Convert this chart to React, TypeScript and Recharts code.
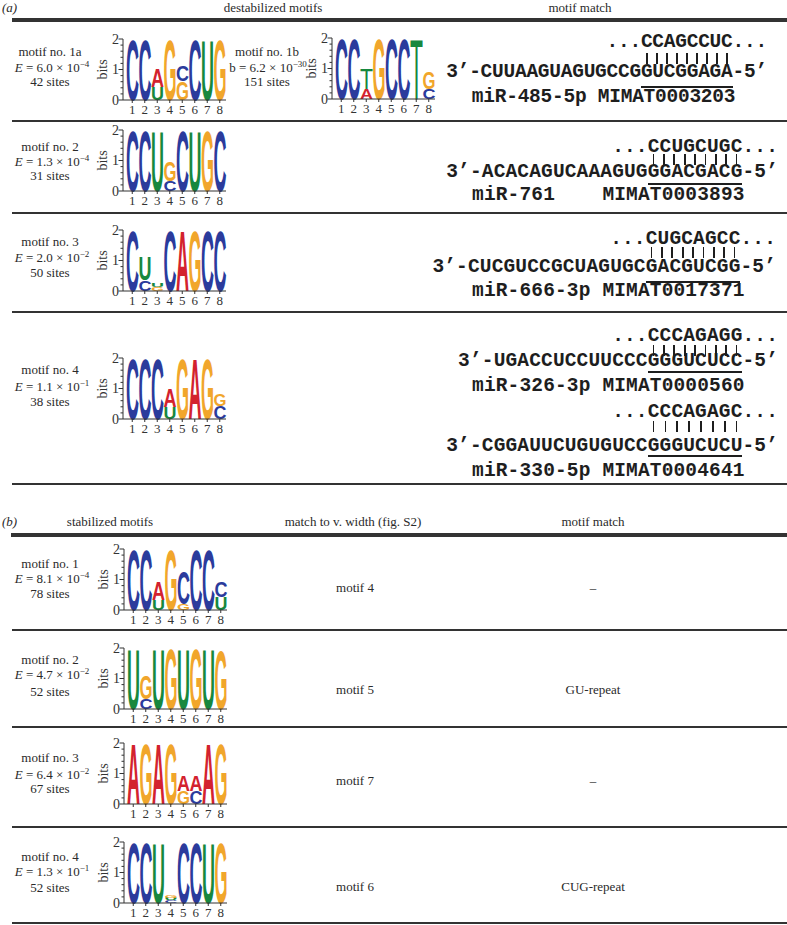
import React from 'react';
import { BarChart, Bar, XAxis, YAxis } from 'recharts';

// one logo column, letters listed bottom -> top as [letter, bits]
type Col = [string, number][];

const POSITIONS = ['1', '2', '3', '4', '5', '6', '7', '8'];
const Y_TICKS = [0, 0.2, 0.4, 0.6, 0.8, 1, 1.2, 1.4, 1.6, 1.8, 2];

const LOGO_A1: Col[] = [
  [['C', 1.98]], [['C', 1.98]], [['U', 0.42], ['A', 0.6]], [['G', 1.98]],
  [['G', 0.62], ['C', 0.52]], [['C', 1.98]], [['U', 1.98]], [['G', 1.98]],
];
const LOGO_A1B: Col[] = [
  [['C', 1.98]], [['C', 1.98]], [['A', 0.34], ['T', 0.68]], [['G', 1.98]],
  [['C', 1.98]], [['C', 1.98]], [['T', 1.98]], [['C', 0.34], ['G', 0.56]],
];
const LOGO_A2: Col[] = [
  [['C', 1.98]], [['C', 1.98]], [['U', 1.98]], [['C', 0.34], ['G', 0.64]],
  [['C', 1.98]], [['U', 1.98]], [['G', 1.98]], [['C', 1.98]],
];
const LOGO_A3: Col[] = [
  [['C', 1.98]], [['C', 0.35], ['U', 0.78]], [['G', 0.12], ['U', 0.14]], [['C', 1.98]],
  [['A', 1.98]], [['G', 1.98]], [['C', 1.98]], [['C', 1.98]],
];
const LOGO_A4: Col[] = [
  [['C', 1.98]], [['C', 1.98]], [['C', 1.98]], [['U', 0.39], ['A', 0.61]],
  [['G', 1.98]], [['A', 1.98]], [['G', 1.98]], [['C', 0.44], ['G', 0.39]],
];
const LOGO_B1: Col[] = [
  [['C', 1.98]], [['C', 1.98]], [['U', 0.33], ['A', 0.59]], [['G', 1.98]],
  [['G', 0.2], ['C', 1.1]], [['C', 1.98]], [['C', 1.98]], [['U', 0.42], ['C', 0.5]],
];
const LOGO_B2: Col[] = [
  [['U', 1.98]], [['C', 0.33], ['G', 0.77]], [['U', 1.98]], [['G', 1.98]],
  [['U', 1.98]], [['G', 1.98]], [['U', 1.98]], [['G', 1.95]],
];
const LOGO_B3: Col[] = [
  [['A', 1.98]], [['G', 1.98]], [['A', 1.98]], [['G', 1.98]],
  [['G', 0.44], ['A', 0.5]], [['C', 0.44], ['A', 0.5]], [['A', 1.98]], [['G', 1.98]],
];
const LOGO_B4: Col[] = [
  [['C', 1.98]], [['C', 1.98]], [['U', 1.98]], [['C', 0.1], ['U', 0.08], ['G', 0.1]],
  [['C', 1.98]], [['C', 1.98]], [['U', 1.98]], [['G', 1.98]],
];

// left column labels
const A_NAMES = ['motif no. 1a', 'motif no. 2', 'motif no. 3', 'motif no. 4'];
const A_MANT = ['6.0', '1.3', '2.0', '1.1'];
const A_EXP = ['−4', '−4', '−2', '−1'];
const A_SITES = ['42 sites', '31 sites', '50 sites', '38 sites'];

const B_NAMES = ['motif no. 1', 'motif no. 2', 'motif no. 3', 'motif no. 4'];
const B_MANT = ['8.1', '4.7', '6.4', '1.3'];
const B_EXP = ['−4', '−2', '−2', '−1'];
const B_SITES = ['78 sites', '52 sites', '67 sites', '52 sites'];
const B_WIDTH = ['motif 4', 'motif 5', 'motif 7', 'motif 6'];
const B_MATCH = ['–', 'GU-repeat', '–', 'CUG-repeat'];

// miRNA matches
const SITES = ['CCAGCCUC', 'CCUGCUGC', 'CUGCAGCC', 'CCCAGAGG', 'CCCAGAGC'];
const MIR_HEAD = ['CUUAAGUAGUGCCG', 'ACACAGUCAAAGUG', 'CUCGUCCGCUAGUGC', 'UGACCUCCUUCCC', 'CGGAUUCUGUGUCC'];
const MIR_SEED = ['GUCGGAGA', 'GGACGACG', 'GACGUCGG', 'GGGUCUCC', 'GGGUCUCU'];
const MIR_NAMES = [
  'miR-485-5p MIMAT0003203',
  'miR-761    MIMAT0003893',
  'miR-666-3p MIMAT0017371',
  'miR-326-3p MIMAT0000560',
  'miR-330-5p MIMAT0004641',
];

const COLORS: Record<string, string> = {
  A: '#d3222e',
  C: '#2b3b9c',
  G: '#f1a62b',
  U: '#17883e',
  T: '#17883e',
};

const SERIF = '"Liberation Serif", "Times New Roman", serif';
const MONO = '"Liberation Mono", "Courier New", monospace';
const INK = '#2a2a2a';
const DARK = '#1e1e1e';

function toRows(cols: Col[]) {
  return cols.map((c, i) => {
    const r: any = { pos: POSITIONS[i] };
    for (let k = 0; k < 3; k++) {
      r['v' + k] = c[k] ? c[k][1] : 0;
      r['l' + k] = c[k] ? c[k][0] : '';
    }
    return r;
  });
}

// stretches a letter to fill its stacked bar
const letterShape = (k: number) => (p: any) => {
  const letter = p.payload ? p.payload['l' + k] : '';
  if (!letter || !p.height || p.height < 0.4) return <g />;
  const sx = p.width / 100;
  const sy = p.height / 71.6;
  return (
    <g transform={`translate(${p.x},${p.y + p.height}) scale(${sx},${sy})`}>
      <text
        x={0}
        y={0}
        fontSize={100}
        fontFamily='"Liberation Sans", Arial, sans-serif'
        fontWeight={letter === 'T' ? 'normal' : 'bold'}
        textLength={100}
        lengthAdjust="spacingAndGlyphs"
        fill={COLORS[letter]}
      >
        {letter}
      </text>
    </g>
  );
};

const YTick = (p: any) => {
  const v = p.payload.value;
  const major = Math.abs(v - Math.round(v)) < 1e-6;
  return (
    <g>
      <line x1={p.x - (major ? 4.5 : 2.5)} x2={p.x} y1={p.y} y2={p.y} stroke="#333" strokeWidth={1} />
      {major && (
        <text x={p.x - 4} y={p.y} dy={4.5} textAnchor="end" fontSize={14} fontFamily={SERIF} fill="#333">
          {v}
        </text>
      )}
      {v === 1 && (
        <text
          transform={`translate(${p.x - 16},${p.y}) rotate(-90)`}
          textAnchor="middle"
          fontSize={14}
          fontFamily={SERIF}
          fill="#333"
        >
          bits
        </text>
      )}
    </g>
  );
};

function Logo({ cols, axisX, top }: { cols: Col[]; axisX: number; top: number }) {
  const rows = toRows(cols);
  return (
    <div style={{ position: 'absolute', left: axisX - 30, top: top - 6 }}>
      <BarChart
        width={137}
        height={85}
        data={rows}
        margin={{ top: 6, right: 4, left: 0, bottom: 0 }}
        barCategoryGap={0}
        barGap={0}
      >
        <XAxis
          dataKey="pos"
          interval={0}
          padding={{ left: 3, right: 0 }}
          tickSize={3}
          tickMargin={2}
          height={18}
          stroke="#333"
          tick={{ fontSize: 13, fontFamily: SERIF, fill: '#333' }}
        />
        <YAxis
          type="number"
          domain={[0, 2]}
          ticks={Y_TICKS}
          interval={0}
          width={30}
          tickSize={0}
          tickMargin={0}
          tickLine={false}
          stroke="#333"
          tick={<YTick />}
        />
        {[0, 1, 2].map((k) => (
          <Bar
            key={k}
            dataKey={'v' + k}
            stackId="s"
            isAnimationActive={false}
            shape={letterShape(k)}
          />
        ))}
      </BarChart>
    </div>
  );
}

function Txt({ x, y, children, size = 13, style }: any) {
  return (
    <div
      style={{
        position: 'absolute',
        left: x - 150,
        width: 300,
        top: y - size * 0.6,
        lineHeight: `${size * 1.2}px`,
        fontSize: size,
        textAlign: 'center',
        whiteSpace: 'pre',
        fontFamily: SERIF,
        color: INK,
        ...style,
      }}
    >
      {children}
    </div>
  );
}

function EVal({ sym, mant, exp }: any) {
  return (
    <>
      {sym === 'E' ? <i>E</i> : sym}
      {' = ' + mant + ' × 10'}
      <span style={{ fontSize: 9, position: 'relative', top: -5 }}>{exp}</span>
    </>
  );
}

function Rule({ y, h = 2, x = 12 }: any) {
  return <div style={{ position: 'absolute', left: x, top: y - h / 2, width: 787 - x, height: h, background: '#333' }} />;
}

const MFS = 19.5;

// a line of monospace text where every character sits in its own fixed cell
function Cells({ left, y, cw, text }: any) {
  return (
    <div style={{ position: 'absolute', left, top: y - MFS * 0.6, height: MFS * 1.2, whiteSpace: 'pre' }}>
      {text.split('').map((ch: string, j: number) => (
        <span
          key={j}
          style={{
            position: 'absolute',
            left: j * cw - 10,
            width: cw + 20,
            textAlign: 'center',
            fontSize: MFS,
            lineHeight: `${MFS * 1.2}px`,
            fontFamily: MONO,
            fontWeight: 'bold',
            color: DARK,
          }}
        >
          {ch}
        </span>
      ))}
    </div>
  );
}

// ys: [dots, barsTop, threePrime, underline, name]
function Match({ i, r, cw, ys, nBars = 9 }: any) {
  const [yd, yb, y3, yu, yn] = ys;
  const dots = '...' + SITES[i] + '...';
  const line3 = '3’-' + MIR_HEAD[i] + MIR_SEED[i] + '-5’';
  const x0 = r - 11 * cw;
  const x1 = r - 3 * cw;
  const step = (x1 - x0 - cw) / (nBars - 1);
  return (
    <>
      <Cells left={r - dots.length * cw} y={yd} cw={cw} text={dots} />
      {Array.from({ length: nBars }).map((_, j) => (
        <div
          key={j}
          style={{
            position: 'absolute',
            left: x0 + cw / 2 + j * step - 0.9,
            top: yb,
            width: 1.8,
            height: 11,
            background: DARK,
          }}
        />
      ))}
      <Cells left={r - line3.length * cw} y={y3} cw={cw} text={line3} />
      <div style={{ position: 'absolute', left: x0, top: yu, width: x1 - x0, height: 1.6, background: DARK }} />
      <Cells left={472} y={yn} cw={cw} text={MIR_NAMES[i]} />
    </>
  );
}

const A_LOGOS = [LOGO_A1, LOGO_A2, LOGO_A3, LOGO_A4];
const A_TOPS = [39, 130, 230, 358];
const A_TEXT_Y = [[52, 68, 82], [147, 162, 176], [242, 258, 273], [370, 387, 402]];
const B_LOGOS = [LOGO_B1, LOGO_B2, LOGO_B3, LOGO_B4];
const B_TOPS = [549, 648, 743, 842];
const B_TEXT_Y = [[564, 579, 594], [660, 675, 692], [758, 775, 789], [857, 872, 888]];
const B_MID_Y = [588, 690, 781, 887];

export default function App() {
  return (
    <div style={{ position: 'absolute', left: 0, top: 0, width: 787, height: 925, background: '#fff', overflow: 'hidden' }}>
      {/* (a) header */}
      <div style={{ position: 'absolute', left: 2, top: 0, fontFamily: SERIF, fontSize: 13, color: INK, fontStyle: 'italic' }}>(a)</div>
      <Txt x={273} y={8}>destabilized motifs</Txt>
      <Txt x={580} y={8}>motif match</Txt>
      <Rule y={20} h={3.5} />

      {A_LOGOS.map((cols, i) => (
        <React.Fragment key={'a' + i}>
          <Logo cols={cols} axisX={123} top={A_TOPS[i]} />
          <Txt x={50} y={A_TEXT_Y[i][0]}>{A_NAMES[i]}</Txt>
          <Txt x={52} y={A_TEXT_Y[i][1]}><EVal sym="E" mant={A_MANT[i]} exp={A_EXP[i]} /></Txt>
          <Txt x={50} y={A_TEXT_Y[i][2]}>{A_SITES[i]}</Txt>
        </React.Fragment>
      ))}
      <Logo cols={LOGO_A1B} axisX={332} top={38} />
      <Txt x={267} y={52}>motif no. 1b</Txt>
      <Txt x={268} y={68}><EVal sym="b" mant="6.2" exp="−30" /></Txt>
      <Txt x={267} y={82}>151 sites</Txt>

      <Match i={0} r={767} cw={11.45} ys={[43, 53, 73, 86, 98]} />
      <Match i={1} r={778} cw={11.85} ys={[148, 154, 173, 183, 196]} />
      <Match i={2} r={776} cw={11.85} ys={[240, 247, 268, 281, 292]} />
      <Match i={3} r={778} cw={11.85} ys={[337, 345, 362, 371, 387]} />
      <Match i={4} r={778} cw={11.85} ys={[413, 421, 447, 455, 472]} nBars={8} />

      <Rule y={121} />
      <Rule y={213} />
      <Rule y={312} />
      <Rule y={484} />

      {/* (b) header */}
      <div style={{ position: 'absolute', left: 2, top: 514, fontFamily: SERIF, fontSize: 13, color: INK, fontStyle: 'italic' }}>(b)</div>
      <Txt x={110} y={522}>stabilized motifs</Txt>
      <Txt x={353} y={522}>match to v. width (fig. S2)</Txt>
      <Txt x={593} y={522}>motif match</Txt>
      <Rule y={535} h={3.5} x={11} />

      {B_LOGOS.map((cols, i) => (
        <React.Fragment key={'b' + i}>
          <Logo cols={cols} axisX={124} top={B_TOPS[i]} />
          <Txt x={50} y={B_TEXT_Y[i][0]}>{B_NAMES[i]}</Txt>
          <Txt x={52} y={B_TEXT_Y[i][1]}><EVal sym="E" mant={B_MANT[i]} exp={B_EXP[i]} /></Txt>
          <Txt x={50} y={B_TEXT_Y[i][2]}>{B_SITES[i]}</Txt>
          <Txt x={355} y={B_MID_Y[i]}>{B_WIDTH[i]}</Txt>
          <Txt x={593} y={B_MID_Y[i]}>{B_MATCH[i]}</Txt>
        </React.Fragment>
      ))}

      <Rule y={630} />
      <Rule y={727} />
      <Rule y={827} />
      <Rule y={923} />
    </div>
  );
}
